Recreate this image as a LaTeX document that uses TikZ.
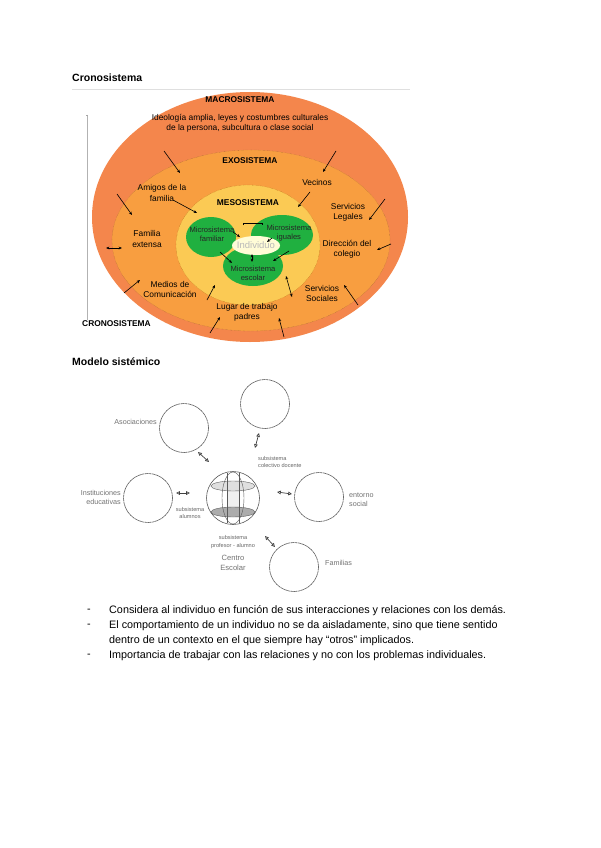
\documentclass[tikz,border=0pt]{standalone}
\usepackage{fontspec}
\setmainfont{Liberation Sans}
\usetikzlibrary{arrows.meta}
\definecolor{macroC}{RGB}{244,134,76}
\definecolor{exoC}{RGB}{248,158,64}
\definecolor{mesoC}{RGB}{251,202,84}
\definecolor{microC}{RGB}{32,176,64}
\definecolor{indC}{RGB}{255,252,215}
\definecolor{sketch}{RGB}{90,90,90}
\begin{document}
\begin{tikzpicture}[x=1pt,y=-1pt,
  lab/.style={font=\fontsize{8.4}{10.2}\selectfont, align=center, text=black, inner sep=0pt},
  mlab/.style={font=\fontsize{7.6}{9.2}\selectfont, align=center, text=black!85, inner sep=0pt},
  hdr/.style={font=\bfseries\fontsize{8.4}{10}\selectfont, inner sep=0pt},
  arr/.style={line width=0.6pt, -{Stealth[length=3.4pt,width=2.8pt]}},
  darr/.style={line width=0.6pt, {Stealth[length=3.4pt,width=2.8pt]}-{Stealth[length=3.4pt,width=2.8pt]}},
  title/.style={font=\bfseries\fontsize{10.5}{12}\selectfont, anchor=west, inner sep=0pt},
  circ/.style={circle, draw=sketch, line width=0.6pt, dash pattern=on 3pt off 0.5pt, minimum size=49pt, inner sep=0pt},
  slab/.style={font=\fontsize{7.2}{9}\selectfont, text=black!55, inner sep=0pt},
  tlab/.style={font=\fontsize{5.6}{7.2}\selectfont, text=black!60, inner sep=0pt, align=center},
  harr/.style={line width=0.7pt, draw=black!75, {Triangle[open,length=3.8pt,width=3.6pt]}-{Triangle[open,length=3.8pt,width=3.6pt]}},
  body/.style={font=\fontsize{10.8}{13}\selectfont, anchor=west, inner sep=0pt}
]
\useasboundingbox (0,0) rectangle (600,848);
\fill[white] (0,0) rectangle (600,848);

% ---------- Cronosistema ----------
\node[title] (t1) at (72,78) {Cronosistema};
\draw[gray!25, line width=0.6pt] (72,89) -- (410,89);

\fill[macroC] (250,217) ellipse [x radius=158, y radius=125];
\fill[exoC] (251,240.5) ellipse [x radius=139, y radius=90.5];
\draw[brown!70!black, line width=0.3pt, densely dotted] (251,240.5) ellipse [x radius=139, y radius=90.5];
\fill[mesoC] (248,245) ellipse [x radius=72, y radius=60];
\draw[orange!60!black, line width=0.3pt, densely dotted] (248,245) ellipse [x radius=72, y radius=60];
\fill[microC] (211,237) ellipse [x radius=25, y radius=20];
\fill[microC] (282,235) ellipse [x radius=31, y radius=20];
\fill[microC] (253,266) ellipse [x radius=30, y radius=20];
\fill[indC] (256,245.5) ellipse [x radius=24, y radius=9.5];

% chronosystem axis
\draw[gray!60, line width=0.5pt] (87,115) -- (87,320);
\draw[gray!70, line width=0.6pt] (86,115) -- (88,115);

\node[hdr] (macro) at (240,100) {MACROSISTEMA};
\node[lab] (ideo) at (240,123) {Ideología amplia, leyes y costumbres culturales\\de la persona, subcultura  o clase social};
\node[hdr] (exo) at (250,161) {EXOSISTEMA};
\node[lab] (vec) at (317,182) {Vecinos};
\node[lab] (ami) at (162,193) {Amigos de la\\familia};
\node[hdr] (meso) at (248,203) {MESOSISTEMA};
\node[lab] (sleg) at (348,212.5) {Servicios\\Legales};
\node[lab] (fext) at (147,239) {Familia\\extensa};
\node[mlab] (mfam) at (212,234.5) {Microsistema\\familiar};
\node[mlab] (migu) at (289,233) {Microsistema\\iguales};
\node[lab, font=\fontsize{9.5}{11}\selectfont, text=gray!55] (ind) at (256,245.5) {Individuo};
\node[lab] (dir) at (347,249.5) {Dirección del\\colegio};
\node[mlab] (mesc) at (253,273.5) {Microsistema\\escolar};
\node[lab] (med) at (170,289.5) {Medios de\\Comunicación};
\node[lab] (ssoc) at (322,293.5) {Servicios\\Sociales};
\node[lab] (lug) at (247,312.5) {Lugar de trabajo\\padres};
\node[hdr, anchor=west] (crono) at (82,324) {CRONOSISTEMA};

% arrows macro -> exo
\draw[arr] (164,151) -- (180,173);
\draw[arr] (336,151) -- (323,172);
\draw[arr] (117,194) -- (132,215);
\draw[arr] (385,199) -- (369,220);
\draw[darr] (106,248) -- (122,248);
\draw[arr] (391,244) -- (377,250);
\draw[arr] (124,293) -- (140,280);
\draw[arr] (358,305) -- (344,285);
\draw[arr] (210,333) -- (220,317);
\draw[arr] (284,337) -- (279,318);
% exo -> meso
\draw[arr] (173,200) -- (197,213);
\draw[arr] (310,192) -- (298,207);
\draw[arr] (207,300) -- (215,285);
\draw[darr] (292,297) -- (286,276);
% micro
\draw[arr] (233,232) -- (240,237);
\draw[arr] (272,238) -- (267,242);
\draw[darr] (252,254) -- (252,262);
\draw[arr] (220,252) -- (232,263);
\draw[arr] (289,251) -- (273,261);
\draw[line width=0.6pt] (243,225) -- (243,223) -- (262,223) -- (262,225);

% ---------- Modelo sistémico ----------
\node[title] (t2) at (72,362) {Modelo sistémico};

\node[circ] (aso) at (184,428) {};
\node[circ] (top) at (265,404) {};
\node[circ] (ins) at (148,498) {};
\node[circ] (ent) at (319,497) {};
\node[circ] (fam) at (294,567) {};

\node[slab, anchor=east] (laso) at (157,422) {Asociaciones};
\node[slab, anchor=east, align=right] (lins) at (121,497) {Instituciones\\educativas};
\node[slab, anchor=west, align=left] (lent) at (349,500) {entorno\\social};
\node[slab, anchor=west] (lfam) at (325,563) {Familias};

% sphere
\coordinate (sc) at (233,498);
\fill[gray!12] (227,486) rectangle (239,512);
\fill[gray!25] (233,486) ellipse [x radius=22, y radius=5];
\draw[sketch, line width=0.4pt] (233,486) ellipse [x radius=22, y radius=5];
\fill[gray!65] (233,512) ellipse [x radius=22, y radius=5];
\draw[sketch, line width=0.4pt] (233,512) ellipse [x radius=22, y radius=5];
\draw[sketch, line width=0.4pt] (227,473) -- (227,523);
\draw[sketch, line width=0.4pt] (239,473) -- (239,523);
\draw[sketch, line width=0.4pt] (233,498) ellipse [x radius=11, y radius=26];
\node[circle, draw=sketch, line width=0.6pt, minimum size=53pt, inner sep=0pt] (sph) at (sc) {};

\node[tlab, anchor=west, align=left] (lcol) at (258,462) {subsistema\\colectivo docente};
\node[tlab] (lalu) at (190,513) {subsistema\\alumnos};
\node[tlab] (lpro) at (233,542) {subsistema\\profesor - alumno};
\node[slab, align=center, font=\fontsize{7.6}{10}\selectfont] (lcen) at (233,563) {Centro\\Escolar};

\draw[harr] (198,452) -- (209,462);
\draw[harr] (259,433) -- (255,448);
\draw[harr] (176,493) -- (190,493);
\draw[harr] (277,492) -- (292,494);
\draw[harr] (265,536) -- (275,547);

% ---------- bullets ----------
\node[body] (d1) at (87,611) {-};
\node[body] (b1) at (109,611) {Considera al individuo en función de sus interacciones y relaciones con los demás.};
\node[body] (d2) at (87,626) {-};
\node[body] (b2) at (109,626) {El comportamiento de un individuo no se da aisladamente, sino que tiene sentido};
\node[body] (b2b) at (109,641) {dentro de un contexto en el que siempre hay “otros” implicados.};
\node[body] (d3) at (87,656) {-};
\node[body] (b3) at (109,656) {Importancia de trabajar con las relaciones y no con los problemas individuales.};
\end{tikzpicture}
\end{document}
